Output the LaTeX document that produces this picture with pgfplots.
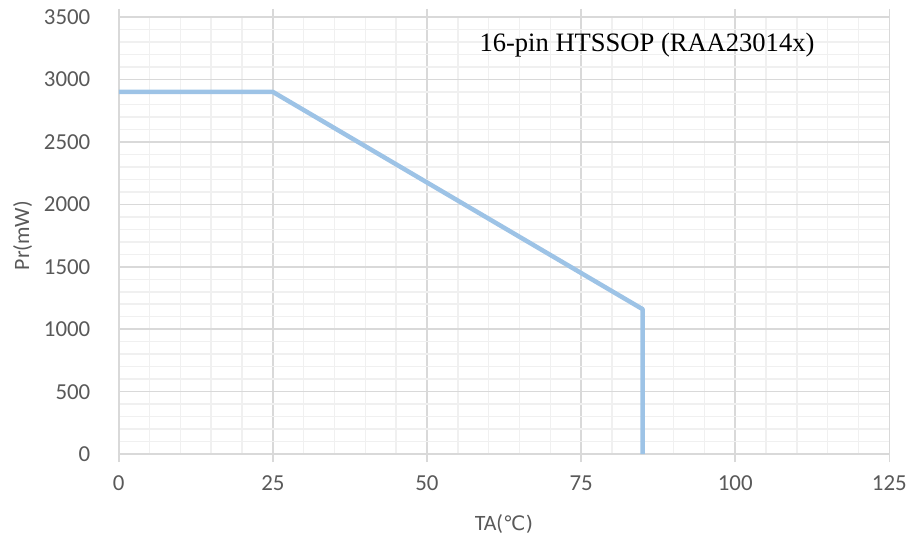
\documentclass[border=0pt]{standalone}
\usepackage{pgfplots}
\pgfplotsset{compat=1.18}
\usepackage{fontspec}
\setmainfont{Carlito}
\newfontfamily\timesf{Liberation Serif}
\newfontfamily\dejavu{DejaVu Sans}
\definecolor{majgrid}{RGB}{217,217,217}
\definecolor{mingrid}{RGB}{240,240,240}
\definecolor{txt}{RGB}{89,89,89}
\definecolor{line}{RGB}{157,195,230}
\begin{document}
\begin{tikzpicture}
\begin{axis}[
  scale only axis, width=772bp, height=438bp,
  xmin=0, xmax=125, ymin=0, ymax=3500,
  xtick={0,25,...,125}, ytick={0,500,...,3500},
  minor x tick num=4, minor y tick num=4,
  grid=both,
  major grid style={color=majgrid, line width=1.5bp},
  minor grid style={color=mingrid, line width=1.5bp},
  axis line style={color=majgrid, line width=1.5bp},
  tick align=outside, major tick length=8bp, minor tick length=0pt,
  xtick style={color=majgrid, line width=1.5bp},
  ytick style={draw=none},
  /pgf/number format/assume math mode=true,
  /pgf/number format/1000 sep={},
  ticklabel style={font=\fontsize{23}{26}\selectfont, text=txt},
  xticklabel style={yshift=-10bp},
  yticklabel style={xshift=-17bp},
  xlabel={TA(\dejavu\fontsize{20}{24}\selectfont ℃)},
  ylabel={Pr(mW)},
  label style={font=\fontsize{22}{26}\selectfont, text=txt},
  xlabel style={yshift=-17bp},
  ylabel style={yshift=5bp},
]
\addplot[line, line width=4.5bp, line join=round] coordinates {(0,2900) (25,2900) (85,1160) (85,0)};
\node[anchor=west, font=\timesf\fontsize{26.7}{30}\selectfont, inner sep=0pt] at (axis cs:58.5,3276) {16-pin HTSSOP (RAA23014x)};
\end{axis}
\useasboundingbox (-119bp,-88bp) rectangle (791bp,455bp);
\end{tikzpicture}
\end{document}
